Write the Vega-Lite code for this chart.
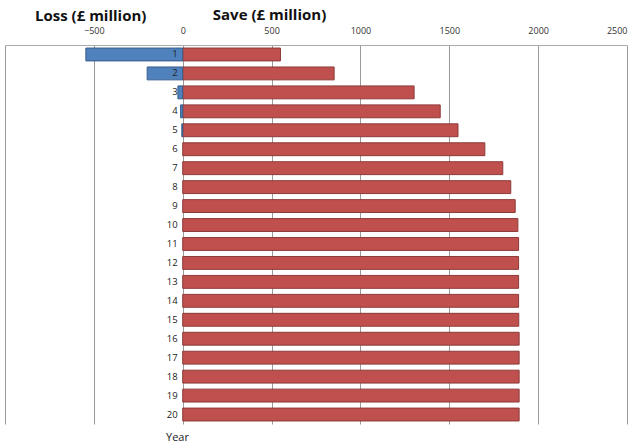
{
  "$schema": "https://vega.github.io/schema/vega-lite/v6.json",
  "width": 622,
  "height": 379,
  "autosize": "none",
  "padding": {"left": 5, "top": 45, "right": 13, "bottom": 19},
  "background": "white",
  "title": {
    "text": "Loss (£ million)",
    "anchor": "start",
    "frame": "group",
    "font": "Open Sans",
    "fontSize": 15,
    "fontWeight": "bold",
    "color": "#111111",
    "dx": 30,
    "dy": 21,
    "offset": 4
  },
  "config": {"view": {"stroke": null}, "font": "Open Sans"},
  "data": {
    "values": [
      {"Year": 1, "Save": 550, "Loss": -545},
      {"Year": 2, "Save": 852, "Loss": -200},
      {"Year": 3, "Save": 1302, "Loss": -27},
      {"Year": 4, "Save": 1449, "Loss": -12},
      {"Year": 5, "Save": 1549, "Loss": -5},
      {"Year": 6, "Save": 1700, "Loss": 0},
      {"Year": 7, "Save": 1801, "Loss": 0},
      {"Year": 8, "Save": 1846, "Loss": 0},
      {"Year": 9, "Save": 1871, "Loss": 0},
      {"Year": 10, "Save": 1886, "Loss": 0},
      {"Year": 11, "Save": 1890, "Loss": 0},
      {"Year": 12, "Save": 1890, "Loss": 0},
      {"Year": 13, "Save": 1890, "Loss": 0},
      {"Year": 14, "Save": 1890, "Loss": 0},
      {"Year": 15, "Save": 1891, "Loss": 0},
      {"Year": 16, "Save": 1893, "Loss": 0},
      {"Year": 17, "Save": 1893, "Loss": 0},
      {"Year": 18, "Save": 1893, "Loss": 0},
      {"Year": 19, "Save": 1893, "Loss": 0},
      {"Year": 20, "Save": 1893, "Loss": 0}
    ]
  },
  "encoding": {
    "y": {
      "field": "Year",
      "type": "ordinal",
      "scale": {"paddingInner": 0.32, "paddingOuter": 0.16},
      "axis": {
        "labels": false,
        "ticks": false,
        "domain": false,
        "grid": false,
        "title": "Year",
        "titleAngle": 0,
        "titleX": 172,
        "titleY": 392,
        "titleAlign": "center",
        "titleBaseline": "middle",
        "titleFontWeight": "normal",
        "titleFontSize": 11,
        "titleColor": "#222222"
      }
    }
  },
  "layer": [
    {
      "mark": {"type": "bar", "color": "#C0504D", "stroke": "#8C3A38", "strokeWidth": 1},
      "encoding": {
        "x": {
          "field": "Save",
          "type": "quantitative",
          "scale": {"domain": [-1000, 2500], "nice": false},
          "axis": {
            "orient": "top",
            "values": [-1000, -500, 0, 500, 1000, 1500, 2000, 2500],
            "labelExpr": "datum.value == -1000 ? '' : datum.label",
            "format": "d",
            "grid": true,
            "gridColor": "#9a9a9a",
            "gridWidth": 1,
            "domain": true,
            "domainColor": "#aaaaaa",
            "ticks": false,
            "labelFontSize": 9,
            "labelColor": "#333333",
            "labelPadding": 10,
            "title": "Save (£ million)",
            "titleFontSize": 15,
            "titleFontWeight": "bold",
            "titleColor": "#111111",
            "titleX": 264,
            "titleY": -31,
            "titleAlign": "center",
            "titleBaseline": "middle"
          }
        }
      }
    },
    {
      "mark": {"type": "bar", "color": "#4F81BD", "stroke": "#385D8A", "strokeWidth": 1},
      "transform": [{"filter": "datum.Loss < 0"}],
      "encoding": {
        "x": {"field": "Loss", "type": "quantitative"}
      }
    },
    {
      "mark": {"type": "text", "align": "right", "baseline": "middle", "dx": -5, "fontSize": 9.5, "color": "#222222"},
      "encoding": {
        "x": {"datum": 0, "type": "quantitative"},
        "text": {"field": "Year", "type": "ordinal"}
      }
    }
  ]
}
